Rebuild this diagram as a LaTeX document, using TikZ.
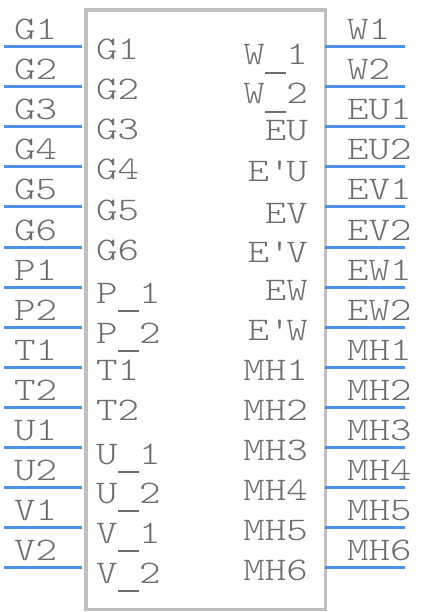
\documentclass[tikz,border=0pt]{standalone}
\usepackage{fontspec}
\newfontfamily\pinfont{lmmonolt10-regular.otf}[FakeStretch=1.24]
\definecolor{pinblue}{RGB}{77,144,232}
\definecolor{boxgray}{RGB}{191,191,191}
\definecolor{txtgray}{RGB}{110,110,110}
\newcommand\pinus{\makebox[0pt][l]{\hspace{0.5pt}\rule[-9pt]{20.5pt}{2pt}}\phantom{M}}
\tikzset{
  pinline/.style={draw=pinblue, line width=3pt},
  body/.style={draw=boxgray, line width=3.5pt, inner sep=0pt},
  lbl/.style={inner sep=0pt, text=txtgray, font=\pinfont\fontsize{33}{33}\selectfont},
}
\begin{document}
\begin{tikzpicture}[x=1pt, y=-1pt]
\useasboundingbox (0,0) rectangle (426,612);
% body
\node[body, minimum width=239.5pt, minimum height=599pt, anchor=north west] (ic) at (84,8.5) {};
% left pins
\foreach \i/\o/\n/\b [evaluate=\i as \y using 47+40*(\i-1)] in {
  1/G1/G1/60, 2/G2/G2/100, 3/G3/G3/140, 4/G4/G4/180, 5/G5/G5/220, 6/G6/G6/260,
  7/P1/P\pinus 1/303, 8/P2/P\pinus 2/343, 9/T1/T1/380, 10/T2/T2/420,
  11/U1/U\pinus 1/464, 12/U2/U\pinus 2/503, 13/V1/V\pinus 1/543, 14/V2/V\pinus 2/583}{
  \coordinate (lpA\i) at (4,\y);
  \coordinate (lpB\i) at (82,\y);
  \draw[pinline] (lpA\i) -- (lpB\i);
  \node[lbl, anchor=base west] (lo\i) at (14,\y-7) {\o};
  \node[lbl, anchor=base west] (li\i) at (96,\b) {\n};
}
% right pins
\foreach \i/\o/\n/\b [evaluate=\i as \y using 47+40*(\i-1)] in {
  1/W1/W\pinus 1/65, 2/W2/W\pinus 2/104, 3/EU1/EU/141, 4/EU2/E\textquotesingle U/182,
  5/EV1/EV/223, 6/EV2/E\textquotesingle V/262, 7/EW1/EW/300, 8/EW2/E\textquotesingle W/340,
  9/MH1/MH1/380, 10/MH2/MH2/420, 11/MH3/MH3/460, 12/MH4/MH4/500,
  13/MH5/MH5/540, 14/MH6/MH6/580}{
  \coordinate (rpA\i) at (325,\y);
  \coordinate (rpB\i) at (405,\y);
  \draw[pinline] (rpA\i) -- (rpB\i);
  \node[lbl, anchor=base west] (ro\i) at (347,\y-7) {\o};
  \node[lbl, anchor=base east] (ri\i) at (308,\b) {\n};
}
\end{tikzpicture}
\end{document}
